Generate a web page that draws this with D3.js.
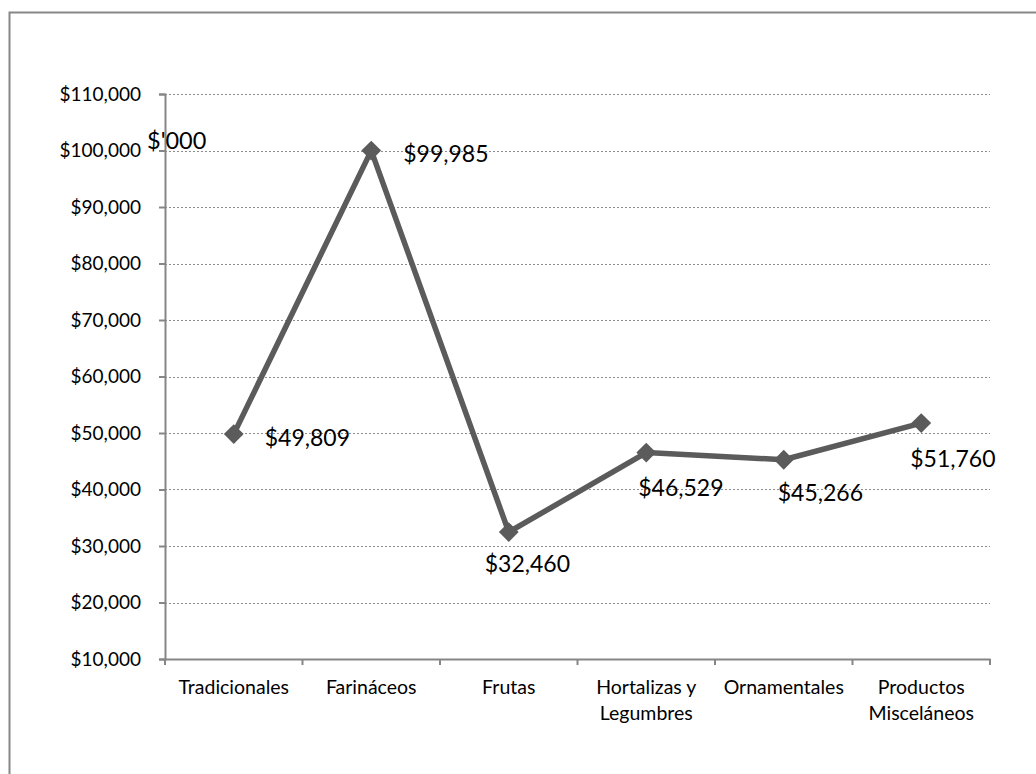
<!DOCTYPE html>
<html>
<head>
<meta charset="utf-8">
<script src="https://cdn.jsdelivr.net/npm/d3@7"></script>
<style>
html,body{margin:0;padding:0;background:#fff;}
svg{display:block;}
text{font-family:Lato,"Open Sans",sans-serif;fill:#000;}
</style>
</head>
<body>
<svg id="chart" width="1036" height="774"></svg>
<script>
const categories = [["Tradicionales"], ["Farináceos"], ["Frutas"], ["Hortalizas y", "Legumbres"], ["Ornamentales"], ["Productos", "Misceláneos"]];
const values = [49809, 99985, 32460, 46529, 45266, 51760];
const yTicks = [10000, 20000, 30000, 40000, 50000, 60000, 70000, 80000, 90000, 100000, 110000];
const unitLabel = "$'000";

// label offsets relative to the point (text start x, text middle y)
const labelOffsets = [[31, 3], [32, 2], [-24, 31], [-8, 34], [-6, 32], [-11, 35]];

(function () {
const svg = d3.select("#chart");
const pL = 165, pR = 990, pT = 94, pB = 659;

// frame
svg.append("rect").attr("x", 9.5).attr("y", 12.5).attr("width", 1100).attr("height", 1000)
  .attr("fill", "none").attr("stroke", "#878787").attr("stroke-width", 2);

const x = d3.scaleBand().domain(d3.range(categories.length)).range([pL, pR]).padding(0);
const y = d3.scaleLinear().domain([10000, 110000]).range([pB, pT]);
const fmt = d3.format("$,");

// gridlines
svg.append("g").selectAll("line").data(yTicks.filter(d => d > 10000)).join("line")
  .attr("x1", pL).attr("x2", pR)
  .attr("y1", d => Math.round(y(d)) + 0.5).attr("y2", d => Math.round(y(d)) + 0.5)
  .attr("stroke", "#8c8c8c").attr("stroke-width", 1).attr("stroke-dasharray", "2,2");

// y axis
const yAxis = d3.axisLeft(y).tickValues(yTicks).tickFormat(fmt).tickSize(6).tickPadding(18);
const gy = svg.append("g").attr("transform", `translate(${pL},0)`).call(yAxis);
gy.select(".domain").attr("stroke", "#868686").attr("stroke-width", 2);
gy.selectAll(".tick line").attr("stroke", "#868686").attr("stroke-width", 2);
gy.selectAll(".tick text").attr("font-size", 19).attr("font-family", "Lato").attr("fill", "#000");

// x axis
const xAxis = d3.axisBottom(x).tickSize(0).tickFormat(() => "");
const gx = svg.append("g").attr("transform", `translate(0,${pB})`).call(xAxis);
gx.select(".domain").attr("stroke", "#868686").attr("stroke-width", 2);
gx.selectAll(".tick").remove();
const bounds = d3.range(categories.length + 1).map(i => i < categories.length ? x(i) : x(categories.length - 1) + x.bandwidth());
gx.selectAll("line.bt").data(bounds).join("line").attr("class", "bt")
  .attr("x1", d => d).attr("x2", d => d).attr("y1", 0).attr("y2", 6)
  .attr("stroke", "#868686").attr("stroke-width", 2);
const catG = svg.append("g");
categories.forEach((lines, i) => {
  const t = catG.append("text").attr("x", x(i) + x.bandwidth() / 2).attr("y", 694)
    .attr("text-anchor", "middle").attr("font-size", 19.5);
  lines.forEach((ln, j) => t.append("tspan").attr("x", x(i) + x.bandwidth() / 2).attr("dy", j === 0 ? 0 : 26).text(ln));
});

// line
const cx = i => x(i) + x.bandwidth() / 2;
const line = d3.line().x((d, i) => cx(i)).y(d => y(d));
svg.append("path").datum(values).attr("d", line).attr("fill", "none")
  .attr("stroke", "#5b5b5b").attr("stroke-width", 5.5).attr("stroke-linejoin", "round");

// markers
svg.append("g").selectAll("rect").data(values).join("rect")
  .attr("x", -7).attr("y", -7).attr("width", 14).attr("height", 14)
  .attr("transform", (d, i) => `translate(${cx(i)},${y(d)}) rotate(45)`)
  .attr("fill", "#5b5b5b");

// data labels
svg.append("g").selectAll("text").data(values).join("text")
  .attr("x", (d, i) => cx(i) + labelOffsets[i][0])
  .attr("y", (d, i) => y(d) + labelOffsets[i][1])
  .attr("dominant-baseline", "central")
  .attr("font-size", 23)
  .text(d => fmt(d));

// unit label
svg.append("text").attr("x", 147).attr("y", 140).attr("dominant-baseline", "central")
  .attr("font-size", 23.5).text(unitLabel);
})();
</script>
</body>
</html>
